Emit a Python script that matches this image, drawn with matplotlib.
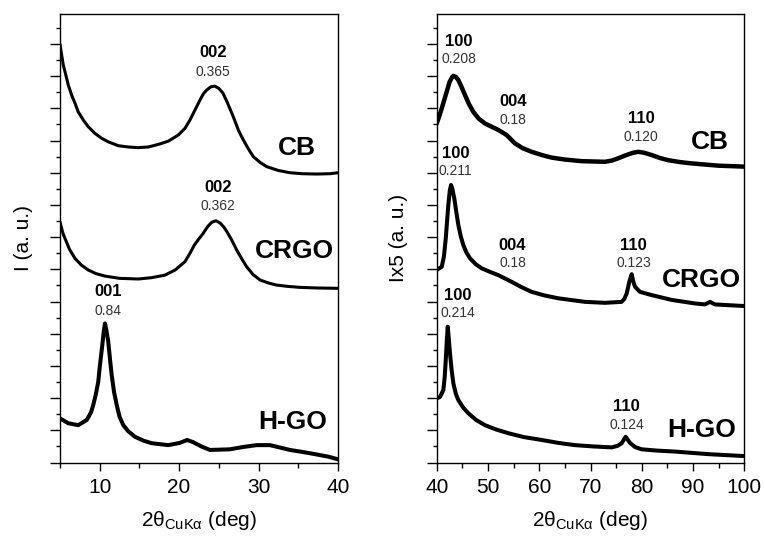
import matplotlib
matplotlib.use("Agg")
import matplotlib.pyplot as plt
from matplotlib.ticker import MultipleLocator, NullFormatter

plt.rcParams['font.family'] = ['Liberation Sans', 'DejaVu Sans']
plt.rcParams['mathtext.fontset'] = 'custom'
plt.rcParams['mathtext.rm'] = 'Liberation Sans'
plt.rcParams['mathtext.it'] = 'Liberation Sans'

# ---- Low-angle region (2theta 5-40 deg), offset patterns ----
cb_lo_x = [5.0, 5.21, 5.42, 5.63, 6.05, 6.47, 6.89, 7.30, 7.93, 8.56, 9.41, 10.25,
           11.08, 12.34, 13.6, 14.86, 16.12, 17.38, 18.63, 19.89, 20.74, 21.37,
           22.0, 22.63, 23.05, 23.47, 24.0, 24.5, 25.0, 25.5, 26.0, 26.82, 27.5,
           28.08, 28.7, 29.34, 30.2, 31.02, 32.5, 33.96, 35.5, 37.32, 39.0, 40.0]
cb_lo_y = [12.99, 12.66, 12.34, 12.14, 11.72, 11.41, 11.16, 10.89, 10.64, 10.43,
           10.22, 10.07, 9.96, 9.84, 9.80, 9.78, 9.80, 9.88, 9.98, 10.17, 10.38,
           10.64, 10.95, 11.26, 11.45, 11.57, 11.67, 11.69, 11.62, 11.48, 11.22,
           10.74, 10.30, 10.02, 9.75, 9.50, 9.32, 9.19, 9.07, 9.00, 8.97, 8.96,
           8.97, 9.00]

crgo_lo_x = [5.0, 5.2, 5.4, 5.63, 6.2, 6.89, 7.7, 8.56, 9.5, 10.67, 12.5, 14.86,
             16.5, 18.22, 19.5, 20.74, 21.37, 21.91, 22.5, 23.04, 23.6, 24.1,
             24.64, 25.2, 25.6, 25.99, 26.6, 27.25, 27.9, 28.5, 29.3, 30.18,
             31.2, 32.28, 33.7, 35.22, 37.5, 40.0]
crgo_lo_y = [7.48, 7.28, 7.10, 6.96, 6.62, 6.34, 6.13, 5.98, 5.87, 5.79, 5.72,
             5.70, 5.74, 5.82, 5.98, 6.24, 6.50, 6.75, 6.95, 7.12, 7.33, 7.46,
             7.51, 7.43, 7.32, 7.18, 6.92, 6.60, 6.32, 6.08, 5.84, 5.67,
             5.58, 5.51, 5.47, 5.44, 5.42, 5.41]

hgo_lo_x = [5.0, 6.04, 7.30, 8.36, 8.9, 9.19, 9.5, 9.82, 10.0, 10.33, 10.5, 10.67,
            10.85, 11.08, 11.3, 11.51, 11.8, 12.14, 12.5, 12.97, 13.6, 14.44,
            15.5, 16.54, 18.63, 20.1, 21.0, 21.78, 22.8, 23.88, 26.40, 28.0,
            29.76, 31.44, 33.96, 35.5, 37.32, 38.8, 40.0]
hgo_lo_y = [1.37, 1.22, 1.16, 1.32, 1.55, 1.79, 2.10, 2.51, 2.95, 3.65, 4.05, 4.32,
            4.10, 3.75, 3.20, 2.72, 2.20, 1.79, 1.42, 1.16, 0.97, 0.80,
            0.68, 0.60, 0.54, 0.61, 0.70, 0.63, 0.50, 0.39, 0.41, 0.48,
            0.54, 0.54, 0.39, 0.33, 0.25, 0.18, 0.10]

# ---- High-angle region (2theta 40-100 deg), intensity x5 ----
cb_hi_x = [40.0, 40.5, 40.98, 41.5, 41.95, 42.5, 43.0, 43.24, 43.7, 44.21, 44.8,
           45.52, 46.3, 47.14, 48.2, 49.42, 50.7, 52.01, 53.65, 55.27, 56.8,
           58.53, 60.5, 62.43, 65.0, 68.28, 72.83, 74.2, 75.42, 77.0, 78.3,
           79.32, 80.5, 81.93, 83.5, 85.17, 87.5, 89.74, 94.92, 100.0]
cb_hi_y = [10.53, 10.76, 11.00, 11.28, 11.52, 11.82, 11.97, 12.01, 11.98, 11.88,
           11.68, 11.41, 11.13, 10.89, 10.68, 10.53, 10.43, 10.33, 10.17, 9.91,
           9.76, 9.65, 9.55, 9.47, 9.41, 9.36, 9.34, 9.38, 9.45, 9.55, 9.62,
           9.65, 9.62, 9.55, 9.46, 9.39, 9.33, 9.29, 9.22, 9.19]

crgo_hi_x = [40.0, 40.98, 41.4, 41.76, 42.26, 42.55, 42.79, 43.05, 43.43, 43.8,
             44.21, 44.7, 45.19, 45.8, 46.5, 47.6, 48.78, 50.4, 52.01, 54.63,
             56.5, 58.53, 61.0, 63.72, 68.93, 72.83, 76.08, 76.6, 77.06, 77.55,
             78.03, 78.35, 78.68, 79.65, 81.93, 85.84, 90.38, 92.33, 93.31,
             94.28, 100.0]
crgo_hi_y = [5.98, 6.08, 6.40, 6.96, 8.00, 8.45, 8.62, 8.50, 8.20, 7.80,
             7.38, 7.02, 6.75, 6.52, 6.34, 6.16, 6.03, 5.92, 5.82, 5.61,
             5.45, 5.30, 5.19, 5.10, 4.99, 4.96, 4.99, 5.08, 5.25, 5.60,
             5.85, 5.62, 5.46, 5.30, 5.20, 5.05, 4.94, 4.91, 4.99,
             4.91, 4.86]

hgo_hi_x = [40.0, 40.64, 41.29, 41.55, 41.76, 41.95, 42.15, 42.35, 42.59, 42.9,
            43.24, 43.7, 44.21, 45.1, 46.16, 47.7, 49.42, 51.5, 53.97, 57.0,
            60.48, 63.7, 66.97, 70.5, 74.13, 75.3, 76.08, 76.86, 77.3, 77.7,
            78.7, 79.98, 83.0, 86.48, 92.97, 100.0]
hgo_hi_y = [1.99, 2.04, 2.25, 2.65, 3.18, 3.75, 4.22, 3.85, 3.39, 2.88,
            2.46, 2.15, 1.94, 1.72, 1.53, 1.32, 1.16, 1.03, 0.91, 0.79,
            0.70, 0.61, 0.54, 0.50, 0.47, 0.52, 0.60, 0.80, 0.70, 0.61,
            0.48, 0.41, 0.37, 0.34, 0.26, 0.20]

# Reflection annotations: (2theta, y of hkl, y of d-spacing, hkl, d-spacing in nm)
lo_peaks = [(24.3, 12.75, 12.13, "002", "0.365"),
            (24.95, 8.53, 7.98, "002", "0.362"),
            (11.04, 5.30, 4.70, "001", "0.84")]
hi_peaks = [(44.25, 13.09, 12.52, "100", "0.208"),
            (54.94, 11.20, 10.64, "004", "0.18"),
            (79.85, 10.69, 10.12, "110", "0.120"),
            (43.67, 9.60, 9.05, "100", "0.211"),
            (54.8, 6.75, 6.19, "004", "0.18"),
            (78.38, 6.75, 6.19, "110", "0.123"),
            (44.06, 5.20, 4.63, "100", "0.214"),
            (77.06, 1.75, 1.16, "110", "0.124")]
lo_names = [(34.8, 9.77, "CB"), (34.46, 6.57, "CRGO"), (34.27, 1.26, "H-GO")]
hi_names = [(93.31, 9.96, "CB"), (91.69, 5.67, "CRGO"), (91.69, 1.01, "H-GO")]

fig = plt.figure(figsize=(7.65, 5.39), dpi=100)
ax1 = fig.add_axes([0.0784, 0.1419, 0.3634, 0.8321])
ax2 = fig.add_axes([0.5709, 0.1419, 0.4020, 0.8321])

line_kw = dict(color='black', solid_joinstyle='round', solid_capstyle='round')
ax1.plot(cb_lo_x, cb_lo_y, lw=2.2, **line_kw)
ax1.plot(crgo_lo_x, crgo_lo_y, lw=2.2, **line_kw)
ax1.plot(hgo_lo_x, hgo_lo_y, lw=2.9, **line_kw)

ax2.plot(cb_hi_x, cb_hi_y, lw=3.2, **line_kw)
ax2.plot(crgo_hi_x, crgo_hi_y, lw=2.9, **line_kw)
ax2.plot(hgo_hi_x, hgo_hi_y, lw=2.9, **line_kw)

for ax, peaks, names in ((ax1, lo_peaks, lo_names), (ax2, hi_peaks, hi_names)):
    for x, yh, yd, hkl, d in peaks:
        ax.text(x, yh, hkl, ha='center', va='center', fontsize=12,
                fontweight='bold', color='black')
        ax.text(x, yd, d, ha='center', va='center', fontsize=10, color='#333333')
    for x, y, name in names:
        ax.text(x, y, name, ha='center', va='center', fontsize=19,
                fontweight='bold', color='black')

ax1.set_xlim(5, 40)
ax2.set_xlim(40, 100)
for ax in (ax1, ax2):
    ax.set_ylim(0, 13.93)
    ax.yaxis.set_major_locator(MultipleLocator(1))
    ax.yaxis.set_minor_locator(MultipleLocator(0.5))
    ax.yaxis.set_major_formatter(NullFormatter())
    ax.tick_params(axis='y', which='major', direction='out', length=7, width=1)
    ax.tick_params(axis='y', which='minor', direction='out', length=3, width=1)
    ax.tick_params(axis='x', which='major', direction='out', length=6, width=1,
                   labelsize=15, pad=5)
    ax.tick_params(axis='x', which='minor', direction='out', length=3.5, width=1)
    ax.xaxis.set_major_locator(MultipleLocator(10))
    ax.xaxis.set_minor_locator(MultipleLocator(5))
    for s in ax.spines.values():
        s.set_linewidth(1.0)
    ax.set_xlabel(r'2$\mathregular{\theta_{CuK\alpha}}$ (deg)', fontsize=15, labelpad=9)

ax1.set_ylabel('I (a. u.)', fontsize=15, labelpad=9)
ax2.set_ylabel('Ix5 (a. u.)', fontsize=15, labelpad=10)

fig.savefig('out.png', dpi=100)
